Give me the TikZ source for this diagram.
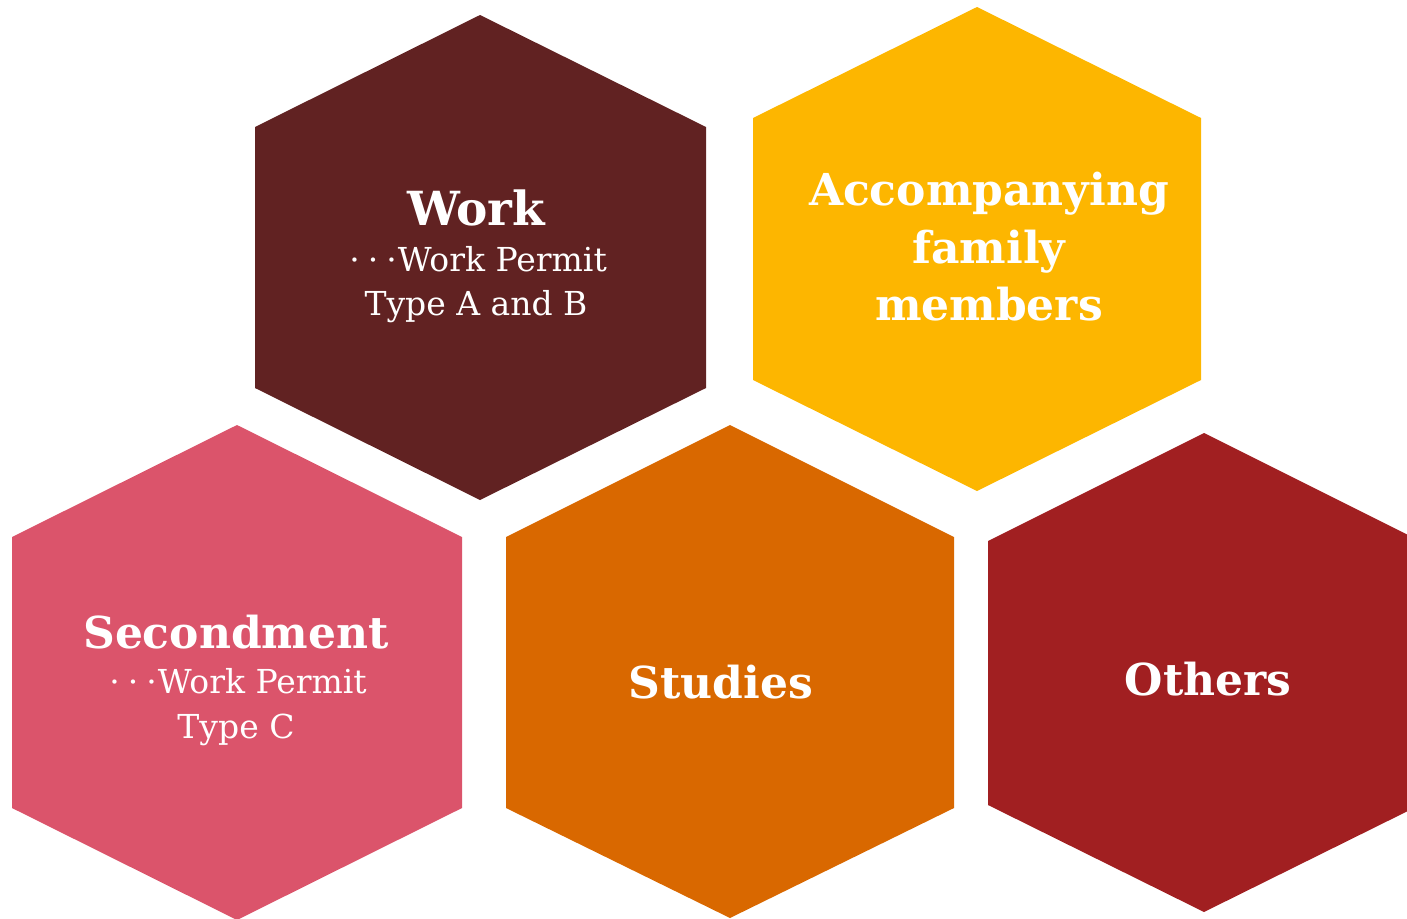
\documentclass[tikz,border=0pt]{standalone}
\usepackage{fontspec}
\setmainfont{DejaVu Serif}
\definecolor{cwork}{HTML}{612222}
\definecolor{cacc}{HTML}{FDB600}
\definecolor{csec}{HTML}{DB546B}
\definecolor{cstu}{HTML}{D96800}
\definecolor{coth}{HTML}{A11F21}
\newcommand{\tridots}{·\hspace{8pt}·\hspace{8pt}·\hspace{1pt}}
\tikzset{
  hexfill/.style={fill=#1, draw=none},
  titletxt/.style={text=white, font=\bfseries\fontsize{44}{50}\selectfont, anchor=base, inner sep=0pt},
  subtxt/.style={text=white, font=\fontsize{33}{38}\selectfont, anchor=base, inner sep=0pt}
}
\begin{document}
\begin{tikzpicture}[x=1pt,y=-1pt]
\useasboundingbox (0,0) rectangle (1407,918);
\clip (0,0) rectangle (1407,918);
% hexagons
\fill[hexfill=cwork] (480,15) -- (706,127) -- (706,388) -- (480,500) -- (255,388) -- (255,127) -- cycle;
\fill[hexfill=cacc] (977,7) -- (1201,118) -- (1201,380) -- (977,491) -- (753,380) -- (753,118) -- cycle;
\fill[hexfill=csec] (237,425) -- (462,537) -- (462,808) -- (237,920) -- (12,808) -- (12,537) -- cycle;
\fill[hexfill=cstu] (730,425) -- (954,537) -- (954,808) -- (730,918) -- (506,808) -- (506,537) -- cycle;
\fill[hexfill=coth] (1204,433) -- (1420,541) -- (1420,805) -- (1204,912) -- (988,805) -- (988,541) -- cycle;
% texts
\node[titletxt, font=\bfseries\fontsize{47}{52}\selectfont] (work) at (476,225) {Work};
\node[subtxt] (work1) at (478,271) {\tridots Work Permit};
\node[subtxt] (work2) at (476,315) {Type A and B};
\node[titletxt] (acc1) at (989,205) {Accompanying};
\node[titletxt] (acc2) at (989,263) {family};
\node[titletxt] (acc3) at (989,320) {members};
\node[titletxt] (sec) at (236,648) {Secondment};
\node[subtxt] (sec1) at (238,693) {\tridots Work Permit};
\node[subtxt] (sec2) at (236,738) {Type C};
\node[titletxt] (stu) at (721,698) {Studies};
\node[titletxt] (oth) at (1208,695) {Others};
\end{tikzpicture}
\end{document}
